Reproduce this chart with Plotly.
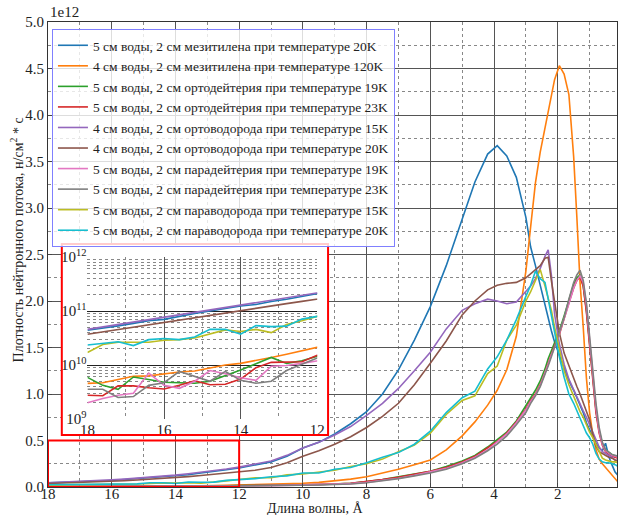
import plotly.graph_objects as go

# ---------------- data (flux in units of 1e12 n/cm^2*s) ----------------
wavelength = [18.0, 17.6, 17.2, 16.8, 16.4, 16.0, 15.6, 15.2, 14.8, 14.4, 14.0, 13.6, 13.2, 12.8, 12.4, 12.0,
              11.5, 11.0, 10.5, 10.0, 9.5, 9.0, 8.5, 8.0, 7.5, 7.0, 6.5, 6.0, 5.5, 5.0, 4.6, 4.2, 3.9, 3.6, 3.3,
              3.0, 2.85, 2.7, 2.55, 2.4, 2.3, 2.2, 2.1, 1.95, 1.8, 1.65, 1.5, 1.4, 1.3, 1.2, 1.1, 1.0, 0.9, 0.8,
              0.7, 0.6, 0.5, 0.4, 0.3, 0.2, 0.1]

flux_mes_20K = [0.044, 0.048, 0.053, 0.059, 0.066, 0.070, 0.080, 0.090, 0.100, 0.110, 0.124, 0.132, 0.150, 0.165, 0.185, 0.205,
                0.235, 0.27, 0.33, 0.42, 0.48, 0.57, 0.68, 0.81, 1.00, 1.26, 1.58, 1.94, 2.38, 2.88, 3.28, 3.58, 3.67, 3.56, 3.33,
                2.90, 2.58, 2.38, 2.16, 1.96, 1.80, 1.68, 1.56, 1.42, 1.28, 1.14, 1.04, 0.96, 0.89, 0.80, 0.69, 0.61, 0.53, 0.47,
                0.42, 0.39, 0.47, 0.33, 0.24, 0.16, 0.12]
flux_mes_120K = [0.00457, 0.00468, 0.00537, 0.00617, 0.0063, 0.00692, 0.00741, 0.00776, 0.0089, 0.0100, 0.0107, 0.0120, 0.0138, 0.0158, 0.0182, 0.0214,
                 0.025, 0.030, 0.035, 0.040, 0.050, 0.065, 0.085, 0.110, 0.150, 0.190, 0.240, 0.290, 0.400, 0.550, 0.700, 0.880, 1.040, 1.260, 1.620,
                 2.32, 2.80, 3.27, 3.60, 3.87, 4.04, 4.20, 4.38, 4.53, 4.44, 4.22, 3.55, 2.90, 2.20, 1.72, 1.17, 0.80, 0.56, 0.40,
                 0.30, 0.25, 0.21, 0.17, 0.13, 0.08, 0.05]
flux_oD_19K = [0.0059, 0.0042, 0.00355, 0.0060, 0.0054, 0.0048, 0.0047, 0.0046, 0.0050, 0.0063, 0.0081, 0.0105, 0.0138, 0.0107, 0.0120, 0.0145,
               0.015, 0.017, 0.020, 0.022, 0.026, 0.030, 0.040, 0.060, 0.080, 0.110, 0.140, 0.170, 0.220, 0.280, 0.340, 0.430, 0.510, 0.590, 0.710,
               0.87, 0.95, 1.04, 1.14, 1.27, 1.38, 1.47, 1.56, 1.68, 1.84, 2.01, 2.18, 2.25, 2.28, 2.16, 1.90, 1.55, 1.18, 0.83,
               0.60, 0.47, 0.40, 0.37, 0.35, 0.33, 0.31]
flux_oD_23K = [0.00275, 0.0027, 0.0041, 0.0041, 0.0038, 0.0036, 0.0042, 0.0051, 0.0043, 0.0044, 0.0055, 0.0089, 0.0112, 0.0115, 0.0115, 0.0151,
               0.016, 0.018, 0.019, 0.023, 0.025, 0.032, 0.040, 0.058, 0.080, 0.105, 0.135, 0.170, 0.210, 0.270, 0.330, 0.420, 0.490, 0.580, 0.700,
               0.84, 0.93, 1.00, 1.10, 1.23, 1.33, 1.43, 1.52, 1.64, 1.82, 1.98, 2.14, 2.22, 2.26, 2.16, 1.88, 1.52, 1.15, 0.80,
               0.58, 0.45, 0.38, 0.35, 0.33, 0.32, 0.31]
flux_oH_15K = [0.0457, 0.0507, 0.0562, 0.0623, 0.0690, 0.0767, 0.0850, 0.0940, 0.104, 0.116, 0.128, 0.142, 0.157, 0.174, 0.193, 0.214,
               0.245, 0.28, 0.34, 0.42, 0.48, 0.56, 0.65, 0.77, 0.90, 1.06, 1.25, 1.45, 1.70, 1.90, 1.97, 2.02, 2.00, 1.97, 1.99,
               2.11, 2.16, 2.24, 2.35, 2.48, 2.55, 2.28, 1.86, 1.54, 1.32, 1.16, 1.04, 0.97, 0.88, 0.82, 0.75, 0.67, 0.57, 0.49,
               0.43, 0.38, 0.36, 0.34, 0.32, 0.29, 0.28]
flux_oH_20K = [0.037, 0.041, 0.045, 0.050, 0.056, 0.061, 0.068, 0.075, 0.083, 0.092, 0.101, 0.112, 0.124, 0.137, 0.151, 0.162,
               0.18, 0.21, 0.26, 0.33, 0.39, 0.46, 0.54, 0.64, 0.76, 0.90, 1.10, 1.33, 1.57, 1.85, 2.00, 2.12, 2.17, 2.19, 2.20,
               2.25, 2.29, 2.33, 2.38, 2.46, 2.47, 2.22, 1.98, 1.66, 1.44, 1.30, 1.16, 1.08, 1.00, 0.91, 0.82, 0.72, 0.57, 0.44,
               0.38, 0.36, 0.34, 0.32, 0.31, 0.29, 0.28]
flux_pD_19K = [0.0020, 0.0024, 0.00275, 0.0030, 0.0071, 0.0042, 0.0037, 0.0050, 0.0079, 0.0069, 0.0058, 0.0052, 0.0095, 0.0098, 0.0107, 0.0117,
               0.013, 0.015, 0.017, 0.020, 0.023, 0.028, 0.036, 0.050, 0.070, 0.095, 0.125, 0.160, 0.200, 0.260, 0.320, 0.400, 0.480, 0.570, 0.690,
               0.83, 0.92, 0.99, 1.09, 1.22, 1.32, 1.42, 1.50, 1.65, 1.80, 1.97, 2.14, 2.22, 2.27, 2.20, 1.95, 1.58, 1.20, 0.85,
               0.60, 0.46, 0.39, 0.36, 0.34, 0.33, 0.32]
flux_pD_23K = [0.00355, 0.00355, 0.0025, 0.0026, 0.0042, 0.0047, 0.0076, 0.0062, 0.0050, 0.0076, 0.0052, 0.0046, 0.0050, 0.0079, 0.0102, 0.0135,
               0.013, 0.015, 0.017, 0.019, 0.022, 0.026, 0.033, 0.045, 0.065, 0.090, 0.120, 0.150, 0.190, 0.250, 0.310, 0.390, 0.460, 0.550, 0.670,
               0.80, 0.90, 0.98, 1.08, 1.20, 1.30, 1.40, 1.50, 1.65, 1.82, 2.02, 2.20, 2.28, 2.33, 2.22, 1.98, 1.62, 1.25, 0.90,
               0.64, 0.48, 0.40, 0.37, 0.35, 0.34, 0.33]
flux_pH_15K = [0.017, 0.024, 0.0263, 0.0263, 0.0263, 0.0288, 0.0295, 0.0316, 0.038, 0.0447, 0.0417, 0.0457, 0.0398, 0.0562, 0.066, 0.081,
               0.10, 0.10, 0.13, 0.14, 0.16, 0.18, 0.22, 0.25, 0.30, 0.38, 0.45, 0.58, 0.78, 0.93, 0.98, 1.22, 1.30, 1.58, 1.74,
               2.00, 2.10, 2.22, 2.34, 2.16, 2.03, 1.90, 1.72, 1.50, 1.25, 1.10, 0.97, 0.88, 0.81, 0.75, 0.66, 0.59, 0.53, 0.45,
               0.38, 0.31, 0.29, 0.28, 0.27, 0.27, 0.26]
flux_pH_20K = [0.0234, 0.0251, 0.0269, 0.0229, 0.0295, 0.0309, 0.0295, 0.0331, 0.0457, 0.0457, 0.0372, 0.0537, 0.0513, 0.0525, 0.0708, 0.0794,
               0.09, 0.11, 0.12, 0.15, 0.15, 0.19, 0.21, 0.26, 0.32, 0.37, 0.46, 0.60, 0.80, 0.96, 1.03, 1.27, 1.40, 1.58, 1.80,
               2.05, 2.17, 2.32, 2.24, 2.20, 2.02, 1.82, 1.67, 1.40, 1.18, 1.00, 0.90, 0.82, 0.72, 0.64, 0.58, 0.53, 0.46, 0.36,
               0.30, 0.27, 0.26, 0.26, 0.25, 0.24, 0.22]

series_names = [
    "5 см воды, 2 см мезитилена при температуре 20K",
    "4 см воды, 2 см мезитилена при температуре 120K",
    "5 см воды, 2 см ортодейтерия при температуре 19K",
    "5 см воды, 2 см ортодейтерия при температуре 23K",
    "4 см воды, 2 см ортоводорода при температуре 15K",
    "4 см воды, 2 см ортоводорода при температуре 20K",
    "5 см воды, 2 см парадейтерия при температуре 19K",
    "5 см воды, 2 см парадейтерия при температуре 23K",
    "5 см воды, 2 см параводорода при температуре 15K",
    "5 см воды, 2 см параводорода при температуре 20K",
]
series_values = [flux_mes_20K, flux_mes_120K, flux_oD_19K, flux_oD_23K, flux_oH_15K,
                 flux_oH_20K, flux_pD_19K, flux_pD_23K, flux_pH_15K, flux_pH_20K]
colors = ["#1f77b4", "#ff7f0e", "#2ca02c", "#d62728", "#9467bd",
          "#8c564b", "#e377c2", "#7f7f7f", "#bcbd22", "#17becf"]

x_ticks_main = [18, 16, 14, 12, 10, 8, 6, 4, 2]
x_ticks_inset = [18, 16, 14, 12]
inset_y_ticks = [1e9, 1e10, 1e11, 1e12]
inset_y_text = ["10<sup>9</sup>", "10<sup>10</sup>", "10<sup>11</sup>", "10<sup>12</sup>"]

FONT = "Liberation Serif"
W, H = 625, 515
ML, MR, MT, MB = 48, 0, 22, 28
PW, PH = W - ML - MR, H - MT - MB


def px_x(p):
    return (p - ML) / PW


def px_y(p):
    return (H - MB - p) / PH


fig = go.Figure()

for name, ys, c in zip(series_names, series_values, colors):
    fig.add_trace(go.Scatter(x=wavelength, y=ys, mode="lines", name=name,
                             line=dict(color=c, width=1.6), xaxis="x", yaxis="y"))

# empty white "box" subplot behind the inset
fig.add_trace(go.Scatter(x=[], y=[], xaxis="x2", yaxis="y2", showlegend=False, hoverinfo="skip"))

for name, ys, c in zip(series_names, series_values, colors):
    fig.add_trace(go.Scatter(x=wavelength, y=[v * 1e12 for v in ys], mode="lines", name=name,
                             line=dict(color=c, width=1.6), xaxis="x3", yaxis="y3", showlegend=False))

grid_major = "#555555"
grid_minor = "#888888"
tickfont = dict(family=FONT, size=15, color="#222")

fig.update_layout(
    width=W, height=H,
    margin=dict(l=ML, r=MR, t=MT, b=MB),
    paper_bgcolor="white", plot_bgcolor="white",
    font=dict(family=FONT, size=14, color="#222"),
    showlegend=True,
    legend=dict(x=px_x(52), y=px_y(29), xanchor="left", yanchor="top",
                bgcolor="rgba(255,255,255,0.8)", bordercolor="#8080ff", borderwidth=1,
                font=dict(family=FONT, size=13.5, color="#222"), itemwidth=30,
                tracegroupgap=0),
    xaxis=dict(domain=[0, 1], range=[18, 0.14], tickvals=x_ticks_main, ticks="inside", ticklen=4,
               ticklabelstandoff=-7,
               tickfont=tickfont, showgrid=True, gridcolor=grid_major, gridwidth=1,
               minor=dict(dtick=1, tick0=0, showgrid=True, griddash="dot", gridcolor=grid_minor, ticks=""),
               showline=True, linecolor="#333", mirror=True, zeroline=False),
    yaxis=dict(domain=[0, 1], range=[0, 5.0], dtick=0.5, tick0=0, tickformat=".1f", ticks="inside",
               ticklen=4, tickfont=tickfont, showgrid=True, gridcolor=grid_major, gridwidth=1,
               minor=dict(dtick=0.25, tick0=0, showgrid=True, griddash="dot", gridcolor=grid_minor, ticks=""),
               showline=True, linecolor="#333", mirror=True, zeroline=False),
    xaxis2=dict(domain=[px_x(62), px_x(332)], anchor="y2", range=[0, 1], showgrid=False,
                showticklabels=False, zeroline=False, ticks="", showline=False),
    yaxis2=dict(domain=[px_y(435), px_y(244)], anchor="x2", range=[0, 1], showgrid=False,
                showticklabels=False, zeroline=False, ticks="", showline=False),
    xaxis3=dict(domain=[px_x(88), px_x(321)], anchor="y3", range=[18, 12], tickvals=x_ticks_inset,
                ticks="", tickfont=tickfont, showgrid=True, gridcolor=grid_major,
                minor=dict(dtick=1, tick0=0, showgrid=True, griddash="dot", gridcolor=grid_minor, ticks=""),
                zeroline=False, showline=False),
    yaxis3=dict(domain=[px_y(419), px_y(257)], anchor="x3", type="log", range=[9, 12],
                tickvals=inset_y_ticks, ticktext=inset_y_text, ticks="", tickfont=tickfont,
                showgrid=True, gridcolor="#222",
                minor=dict(dtick="D1", showgrid=True, griddash="dot", gridcolor=grid_minor, ticks=""),
                zeroline=False, showline=False),
    shapes=[
        dict(type="rect", xref="x", yref="y", x0=18, x1=12, y0=0, y1=0.5,
             line=dict(color="red", width=2), layer="above"),
        dict(type="rect", xref="paper", yref="paper", x0=px_x(62), x1=px_x(332), y0=px_y(435), y1=px_y(244),
             line=dict(color="red", width=2), layer="above"),
    ],
    annotations=[
        dict(text="1e12", xref="paper", yref="paper", x=0.0, y=1.0, xanchor="left", yanchor="bottom",
             showarrow=False, font=dict(family=FONT, size=15, color="#222")),
        dict(text="Длина волны, Å", xref="paper", yref="paper", x=px_x(319), y=px_y(508),
             xanchor="center", yanchor="middle", showarrow=False,
             font=dict(family=FONT, size=14, color="#222")),
        dict(text="Плотность нейтронного потока, н/см<sup>2</sup> * с", xref="paper", yref="paper",
             x=px_x(17), y=px_y(240), xanchor="center", yanchor="middle", textangle=-90,
             showarrow=False, font=dict(family=FONT, size=14, color="#222")),
    ],
)

fig.write_html("out.html")
